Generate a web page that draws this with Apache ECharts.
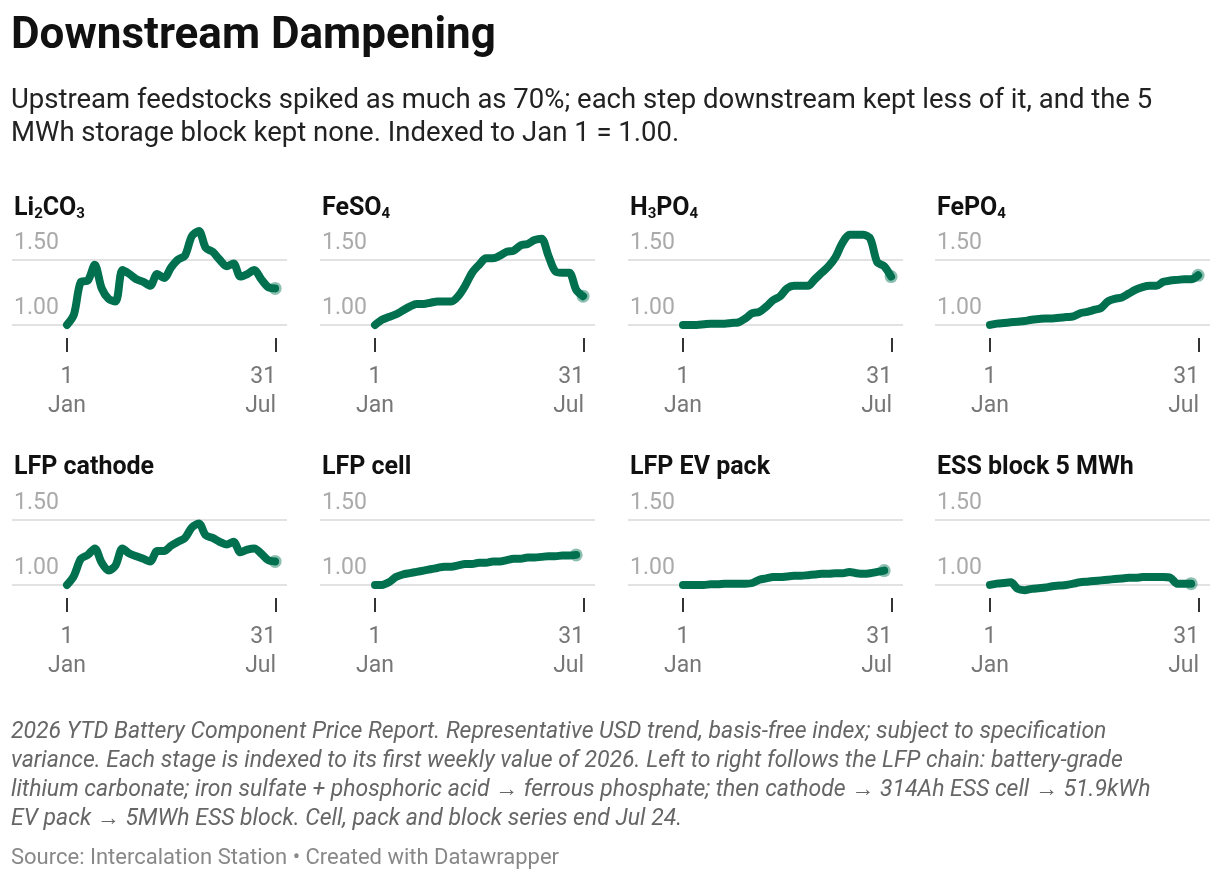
<!DOCTYPE html>
<head>
    <meta charset="utf-8">
    <title>Downstream Dampening</title>
    <script src="https://cdn.jsdelivr.net/npm/echarts@6/dist/echarts.min.js"></script>
    <style>
        body { margin: 0; background: #fff; }
        #main { width: 1220px; height: 880px; }
    </style>
</head>
<body>
<div id="main"></div>
<script type="text/javascript">
    // panel names (rich text for subscripts)
    var panelTitles = [
        '{a|Li}{s|2}{a|CO}{s|3}', '{a|FeSO}{s|4}', '{a|H}{s|3}{a|PO}{s|4}', '{a|FePO}{s|4}',
        '{a|LFP cathode}', '{a|LFP cell}', '{a|LFP EV pack}', '{a|ESS block 5 MWh}'
    ];
    // weekly index values, starting Jan 1
    var li2co3 = [1.00,1.08,1.33,1.34,1.46,1.28,1.20,1.18,1.42,1.39,1.35,1.33,1.30,1.39,1.36,1.44,1.50,1.53,1.68,1.72,1.59,1.56,1.50,1.45,1.47,1.37,1.39,1.42,1.35,1.29,1.28];
    var feso4 = [1.00,1.04,1.06,1.08,1.11,1.14,1.16,1.16,1.17,1.18,1.18,1.18,1.22,1.30,1.40,1.46,1.51,1.51,1.53,1.56,1.57,1.61,1.62,1.65,1.66,1.53,1.41,1.40,1.40,1.27,1.22];
    var h3po4 = [1.00,1.00,1.00,1.005,1.01,1.01,1.01,1.015,1.02,1.05,1.09,1.10,1.14,1.19,1.22,1.28,1.30,1.30,1.30,1.35,1.40,1.45,1.52,1.63,1.69,1.69,1.69,1.66,1.48,1.45,1.37];
    var fepo4 = [1.00,1.01,1.015,1.02,1.025,1.03,1.04,1.045,1.05,1.05,1.055,1.06,1.065,1.09,1.10,1.115,1.13,1.18,1.20,1.21,1.24,1.27,1.29,1.30,1.30,1.33,1.34,1.345,1.35,1.35,1.38];
    var cathode = [1.00,1.07,1.20,1.23,1.28,1.17,1.11,1.15,1.28,1.24,1.22,1.20,1.18,1.26,1.26,1.30,1.33,1.36,1.44,1.47,1.38,1.36,1.33,1.31,1.33,1.25,1.27,1.28,1.24,1.19,1.18];
    var cell = [1.00,1.00,1.02,1.06,1.08,1.09,1.10,1.11,1.12,1.13,1.14,1.14,1.15,1.16,1.16,1.17,1.17,1.18,1.18,1.19,1.20,1.20,1.21,1.21,1.215,1.22,1.22,1.225,1.225,1.23];
    var evPack = [1.00,1.00,1.00,1.00,1.005,1.005,1.01,1.01,1.01,1.01,1.015,1.04,1.05,1.06,1.06,1.065,1.07,1.07,1.075,1.08,1.085,1.085,1.09,1.09,1.10,1.09,1.085,1.09,1.10,1.11];
    var essBlock = [1.00,1.01,1.015,1.02,0.97,0.96,0.97,0.975,0.98,0.99,0.995,1.00,1.01,1.02,1.025,1.03,1.035,1.04,1.045,1.05,1.055,1.055,1.06,1.06,1.06,1.06,1.055,1.01,1.01,1.01];
    var allSeries = [li2co3, feso4, h3po4, fepo4, cathode, cell, evPack, essBlock];
    var yTicks = [1.00, 1.50];

    // x in days since Jan 1; Jul 31 = day 211
    var endDay = 211;
    var colX = [0, 308, 616, 923];
    var rowTop = [227, 487];
    var green = '#00704f';

    var myChart = echarts.init(document.getElementById('main'));

    var grids = [], xAxes = [], yAxes = [], series = [], titles = [];
    allSeries.forEach(function (vals, i) {
        var c = i % 4, r = Math.floor(i / 4);
        grids.push({ left: 12 + colX[c], top: rowTop[r], width: 275, height: 111 });
        xAxes.push({
            type: 'value', gridIndex: i,
            min: -55.5, max: endDay + 11,
            axisLine: { show: false },
            splitLine: { show: false },
            axisTick: { show: true, customValues: [0, endDay], length: 14, lineStyle: { color: '#333', width: 2 } },
            axisLabel: {
                customValues: [0, endDay], margin: 25,
                fontFamily: 'Roboto', fontSize: 23, color: '#777', lineHeight: 29,
                alignMaxLabel: 'right',
                formatter: function (v) { return v < 1 ? '1\nJan' : '31\nJul'; }
            }
        });
        yAxes.push({ type: 'value', gridIndex: i, min: 0.9, max: 1.75, show: false, splitLine: { show: false } });
        var data = vals.map(function (v, k) { return [k * 7, v]; });
        var last = data.pop();
        data.push({ value: last, symbol: 'circle', symbolSize: 13, itemStyle: { color: 'rgba(0,112,79,0.45)' } });
        series.push({
            type: 'line', xAxisIndex: i, yAxisIndex: i, data: data,
            symbol: 'none', smooth: 0.3, showSymbol: true,
            lineStyle: { color: green, width: 8, cap: 'round', join: 'round' },
            itemStyle: { color: green },
            markLine: {
                silent: true, symbol: 'none', z: 0,
                lineStyle: { color: '#e2e2e2', width: 2, type: 'solid' },
                label: { position: 'insideStartTop', distance: [2, 5], fontFamily: 'Roboto', fontSize: 23, color: '#aaa',
                    formatter: function (p) { return p.value.toFixed(2); } },
                data: yTicks.map(function (t) { return { yAxis: t }; })
            }
        });
        titles.push({
            left: 9 + colX[c], top: rowTop[r] - 37,
            text: panelTitles[i],
            textStyle: {
                rich: {
                    a: { fontFamily: 'Roboto', fontWeight: 'bold', fontSize: 25, color: '#111' },
                    s: { fontFamily: 'Roboto', fontWeight: 'bold', fontSize: 15, color: '#111', padding: [12, 0, 0, 0] }
                }
            }
        });
    });

    titles.push({
        left: 6, top: 10, text: 'Downstream Dampening',
        textStyle: { fontFamily: 'Roboto', fontWeight: 'bold', fontSize: 44, color: '#111' }
    });
    titles.push({
        left: 6, top: 80,
        text: 'Upstream feedstocks spiked as much as 70%; each step downstream kept less of it, and the 5\nMWh storage block kept none. Indexed to Jan 1 = 1.00.',
        textStyle: { fontFamily: 'Roboto', fontWeight: 'normal', fontSize: 27.5, color: '#222', lineHeight: 33 }
    });
    titles.push({
        left: 6, top: 713,
        text: '2026 YTD Battery Component Price Report. Representative USD trend, basis-free index; subject to specification\n' +
              'variance. Each stage is indexed to its first weekly value of 2026. Left to right follows the LFP chain: battery-grade\n' +
              'lithium carbonate; iron sulfate + phosphoric acid \u2192 ferrous phosphate; then cathode \u2192 314Ah ESS cell \u2192 51.9kWh\n' +
              'EV pack \u2192 5MWh ESS block. Cell, pack and block series end Jul 24.',
        textStyle: { fontFamily: 'Roboto', fontWeight: 'normal', fontStyle: 'italic', fontSize: 23, color: '#666', lineHeight: 29 }
    });
    titles.push({
        left: 6, top: 842,
        text: 'Source: Intercalation Station \u2022 Created with Datawrapper',
        textStyle: { fontFamily: 'Roboto', fontWeight: 'normal', fontSize: 22, color: '#888' }
    });

    myChart.setOption({
        animation: false,
        backgroundColor: '#fff',
        title: titles,
        grid: grids,
        xAxis: xAxes,
        yAxis: yAxes,
        series: series
    });
</script>
</body>
